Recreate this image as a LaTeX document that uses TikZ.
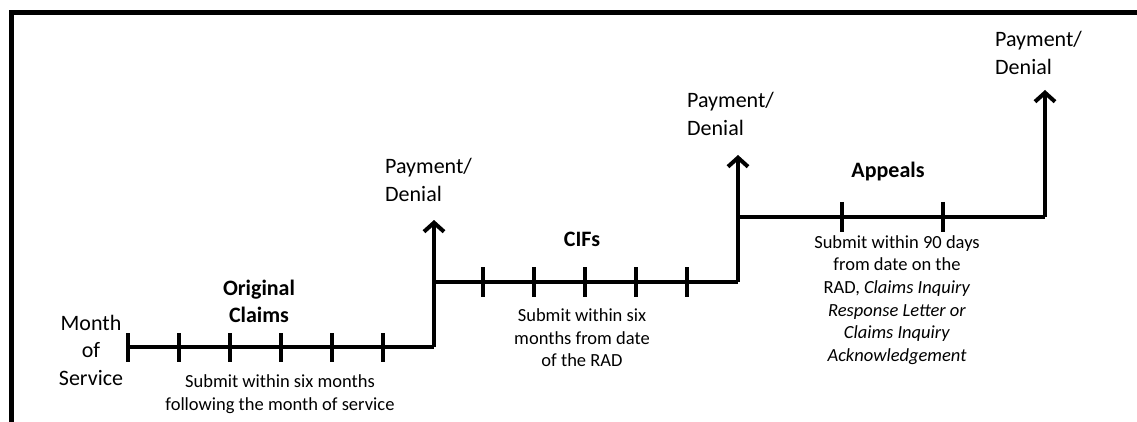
\documentclass[tikz,border=0pt]{standalone}
\usepackage{fontspec}
\setmainfont{Carlito}
\usetikzlibrary{arrows.meta}
\begin{document}
\begin{tikzpicture}[x=1pt,y=-1pt,
  big/.style={font=\fontsize{22}{27.5}\selectfont, inner sep=0pt},
  bigb/.style={font=\fontsize{22}{27}\selectfont\bfseries, inner sep=0pt, align=center},
  small/.style={font=\fontsize{18.5}{22.6}\selectfont, inner sep=0pt, align=center},
  tl/.style={line width=4.2pt},
  tick/.style={line width=4pt},
  up/.style={line width=4.2pt, -{Straight Barb[length=9pt,width=20pt,line width=4pt]}},
  frame/.style={line width=5pt, line join=miter}]
\useasboundingbox (0,0) rectangle (1137,422);
\draw[frame] (11,422) -- (11,13) -- (1137,13);

% timeline 1
\coordinate (a0) at (128,347);
\coordinate (a1) at (434,347);
\coordinate (a2) at (434,220);
\draw[tl] (a0) -- (a1);
\foreach \x in {128,179,230,281,332,383} \draw[tick] (\x,333) -- (\x,362);
\draw[up] (a1) -- (a2);

% timeline 2
\coordinate (b1) at (738,282);
\coordinate (b2) at (738,155);
\draw[tl] (a1 |- b1) -- (b1);
\foreach \x in {483,534,585,636,687} \draw[tick] (\x,267) -- (\x,297);
\draw[up] (b1) -- (b2);

% timeline 3
\coordinate (c1) at (1045,217);
\coordinate (c2) at (1045,90);
\draw[tl] (b1 |- c1) -- (c1);
\foreach \x in {842,943} \draw[tick] (\x,202) -- (\x,232);
\draw[up] (c1) -- (c2);

% labels
\node[big, align=center] (mos) at (91,350) {Month\\of\\Service};
\node[bigb] (oc) at (259,301) {Original\\Claims};
\node[bigb] (cif) at (582,239) {CIFs};
\node[bigb] (app) at (888,172) {Appeals};

\node[big, align=left, anchor=west] (pd1) at (385,180) {Payment/\\Denial};
\node[big, align=left, anchor=west] (pd2) at (687,114) {Payment/\\Denial};
\node[big, align=left, anchor=west] (pd3) at (995,53) {Payment/\\Denial};

\node[small] (t1) at (280,394) {Submit within six months\\following the month of service};
\node[small] (t2) at (582,338) {Submit within six\\months from date\\of the RAD};
\node[small] (t3) at (897,300) {Submit within 90 days\\from date on the\\RAD, \textit{Claims Inquiry}\\\textit{Response Letter or}\\\textit{Claims Inquiry}\\\textit{Acknowledgement}};
\end{tikzpicture}
\end{document}
